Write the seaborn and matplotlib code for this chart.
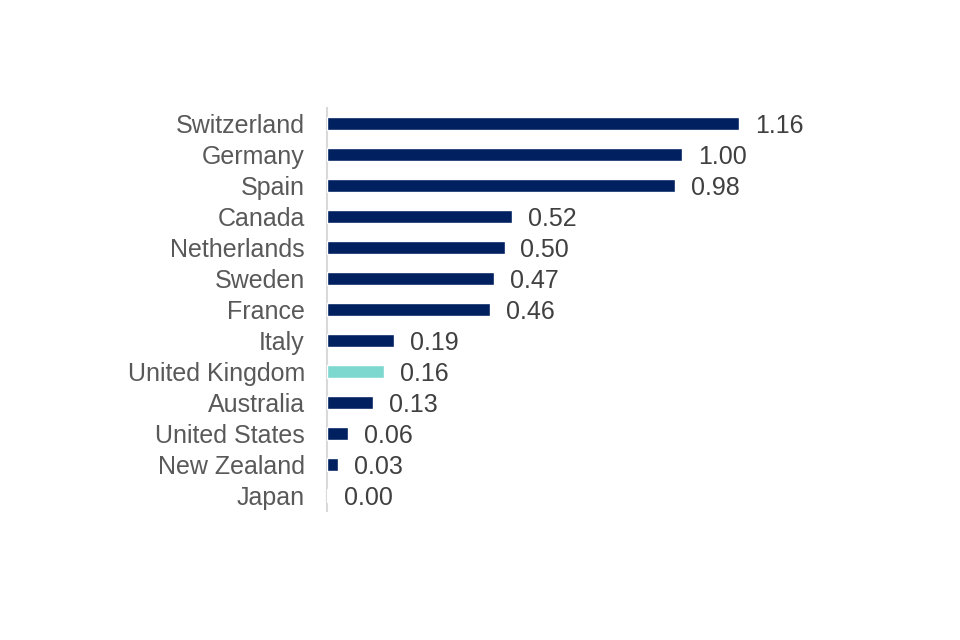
import matplotlib
matplotlib.use("Agg")
import matplotlib.pyplot as plt
import seaborn as sns
import pandas as pd

countries = ["Switzerland", "Germany", "Spain", "Canada", "Netherlands", "Sweden",
             "France", "Italy", "United Kingdom", "Australia", "United States",
             "New Zealand", "Japan"]
values = [1.16, 1.00, 0.98, 0.52, 0.50, 0.47, 0.46, 0.19, 0.16, 0.13, 0.06, 0.03, 0.004]
highlight = ["UK" if c == "United Kingdom" else "Other" for c in countries]

df = pd.DataFrame({"country": countries, "value": values, "group": highlight})

sns.set_theme(style="white")
plt.rcParams["font.family"] = ["Liberation Sans", "DejaVu Sans"]

fig = plt.figure(figsize=(9.6, 6.4), dpi=100)
ax = fig.add_axes([327/960, 1-511/640, 568/960, 403/640])

sns.barplot(data=df, y="country", x="value", hue="group", orient="h",
            palette={"Other": "#002060", "UK": "#7DD8D0"}, dodge=False,
            width=0.42, legend=False, ax=ax, saturation=1)

for i, v in enumerate(values):
    ax.text(v + 0.045, i, f"{v:.2f}", va="center_baseline", ha="left",
            fontsize=18, color="#404040")

ax.set_xlim(0, 1.6)
ax.set_ylim(12.5, -0.5)
ax.set_xlabel("")
ax.set_ylabel("")
ax.set_xticks([])
ax.tick_params(axis="y", length=0, pad=16, labelsize=18, labelcolor="#595959")
for s in ["top", "right", "bottom"]:
    ax.spines[s].set_visible(False)
ax.spines["left"].set_color("#D9D9D9")
ax.spines["left"].set_linewidth(1.5)
ax.spines["left"].set_zorder(0)

fig.savefig("out.png", dpi=100, facecolor="white")
